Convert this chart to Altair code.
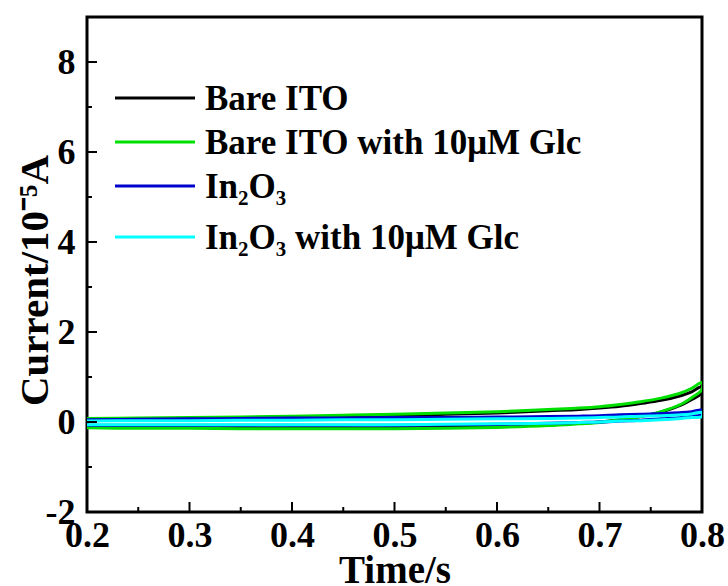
import altair as alt
import pandas as pd

# Sweep positions (forward branch goes 0.2 -> 0.8, reverse branch comes back)
x_pts = [0.20, 0.25, 0.30, 0.35, 0.40, 0.45, 0.50, 0.55, 0.60,
         0.65, 0.68, 0.70, 0.72, 0.74, 0.76, 0.78, 0.79, 0.80]

series_names = ["Bare ITO", "Bare ITO with 10μM Glc", "In₂O₃", "In₂O₃ with 10μM Glc"]
series_colors = ["#000000", "#00E000", "#0000CD", "#00FFFF"]

# Current (10^-5 A), upper and lower branch, both listed at ascending x_pts
bare_up = [0.06, 0.07, 0.08, 0.09, 0.11, 0.12, 0.14, 0.17, 0.20,
           0.25, 0.28, 0.31, 0.35, 0.41, 0.48, 0.59, 0.67, 0.79]
bare_down = [-0.11, -0.12, -0.12, -0.13, -0.13, -0.13, -0.13, -0.12, -0.10,
             -0.06, -0.03, 0.00, 0.05, 0.12, 0.22, 0.38, 0.50, 0.65]

bare_glc_up = [0.08, 0.09, 0.10, 0.11, 0.13, 0.15, 0.17, 0.20, 0.23,
               0.28, 0.31, 0.34, 0.39, 0.45, 0.53, 0.65, 0.75, 0.88]
bare_glc_down = [-0.13, -0.14, -0.14, -0.15, -0.15, -0.15, -0.15, -0.14, -0.12,
                 -0.08, -0.04, -0.01, 0.05, 0.12, 0.23, 0.40, 0.54, 0.72]

ino_up = [0.05, 0.06, 0.07, 0.08, 0.09, 0.09, 0.10, 0.10, 0.11,
          0.12, 0.13, 0.14, 0.16, 0.17, 0.19, 0.21, 0.23, 0.26]
ino_down = [-0.07, -0.07, -0.07, -0.07, -0.07, -0.07, -0.07, -0.06, -0.05,
            -0.03, -0.01, 0.00, 0.02, 0.04, 0.07, 0.10, 0.13, 0.17]

ino_glc_up = [0.02, 0.03, 0.03, 0.04, 0.04, 0.05, 0.05, 0.06, 0.07,
              0.08, 0.09, 0.10, 0.11, 0.13, 0.14, 0.16, 0.18, 0.21]
ino_glc_down = [-0.06, -0.06, -0.06, -0.06, -0.06, -0.06, -0.06, -0.05, -0.04,
                -0.03, -0.01, 0.00, 0.02, 0.03, 0.05, 0.08, 0.10, 0.12]

branches = [(bare_up, bare_down), (bare_glc_up, bare_glc_down),
            (ino_up, ino_down), (ino_glc_up, ino_glc_down)]

x_major = [0.2, 0.3, 0.4, 0.5, 0.6, 0.7, 0.8]
x_minor = [0.25, 0.35, 0.45, 0.55, 0.65, 0.75]
y_major = [-2, 0, 2, 4, 6, 8]
y_minor = [-1, 1, 3, 5, 7]

W, H = 615, 495
FONT = "Liberation Serif"

x_scale = alt.Scale(domain=[0.2, 0.8], nice=False, zero=False)
y_scale = alt.Scale(domain=[-2, 9], nice=False, zero=False)

x_axis = alt.Axis(values=x_major, format=".1f", title="Time/s",
                  titleX=W / 2, titleY=70, titleBaseline="alphabetic",
                  titleFontSize=39,
                  labelPadding=6, labelFlush=False, labelOverlap=False)
# plain hyphen for negative tick labels
y_axis = alt.Axis(values=y_major, title="Current/10⁻⁵A",
                  labelExpr="datum.value < 0 ? '-' + abs(datum.value) : '' + datum.value",
                  titleX=-40, titleY=263, titleAngle=270, titleFontSize=41,
                  titleBaseline="alphabetic", titleAlign="center",
                  labelPadding=12, labelFlush=False, labelOverlap=False)


def loop_frame(up, down, name):
    xs = x_pts + x_pts[::-1]
    ys = up + down[::-1]
    return pd.DataFrame({"x": xs, "y": ys, "i": list(range(len(xs))),
                         "series": name})


layers = []
for name, color, (up, down) in zip(series_names, series_colors, branches):
    df = loop_frame(up, down, name)
    layers.append(
        alt.Chart(df).mark_line(color=color, strokeWidth=3,
                                interpolate="catmull-rom", clip=True).encode(
            x=alt.X("x:Q", scale=x_scale, axis=x_axis),
            y=alt.Y("y:Q", scale=y_scale, axis=y_axis),
            order="i:Q",
        )
    )


# Inward tick marks on the bottom and left edges
def x_ticks(vals, length):
    return alt.Chart(pd.DataFrame({"v": vals})).mark_rule(
        color="black", strokeWidth=2).encode(
        x=alt.X("v:Q", scale=x_scale, axis=x_axis),
        y=alt.value(H), y2=alt.value(H - length))


def y_ticks(vals, length):
    return alt.Chart(pd.DataFrame({"v": vals})).mark_rule(
        color="black", strokeWidth=2).encode(
        y=alt.Y("v:Q", scale=y_scale, axis=y_axis),
        x=alt.value(0), x2=alt.value(length))


layers += [x_ticks(x_major, 10), x_ticks(x_minor, 5),
           y_ticks(y_major, 10), y_ticks(y_minor, 5)]

# Legend block in the upper-left corner
legend_rows = [81, 125, 169, 220]
for name, color, ly in zip(series_names, series_colors, legend_rows):
    one = pd.DataFrame({"label": [name]})
    layers.append(
        alt.Chart(one).mark_rule(color=color, strokeWidth=3).encode(
            x=alt.value(28), x2=alt.value(108), y=alt.value(ly))
    )
    layers.append(
        alt.Chart(one).mark_text(align="left", baseline="alphabetic",
                                 font=FONT, fontSize=35, fontWeight="bold",
                                 color="black").encode(
            x=alt.value(118), y=alt.value(ly + 12), text="label:N")
    )

chart = alt.layer(*layers).properties(
    width=W, height=H,
    autosize=alt.AutoSizeParams(type="none"),
    padding={"left": 87, "top": 17, "right": 26, "bottom": 74},
    background="white",
).configure_view(
    stroke="black", strokeWidth=3
).configure_axis(
    domain=False, ticks=False, grid=False,
    labelFont=FONT, labelFontSize=36, labelFontWeight="bold", labelColor="black",
    titleFont=FONT, titleFontWeight="bold", titleColor="black",
)

chart.save("out.html", embed_options={"renderer": "svg", "actions": False})
